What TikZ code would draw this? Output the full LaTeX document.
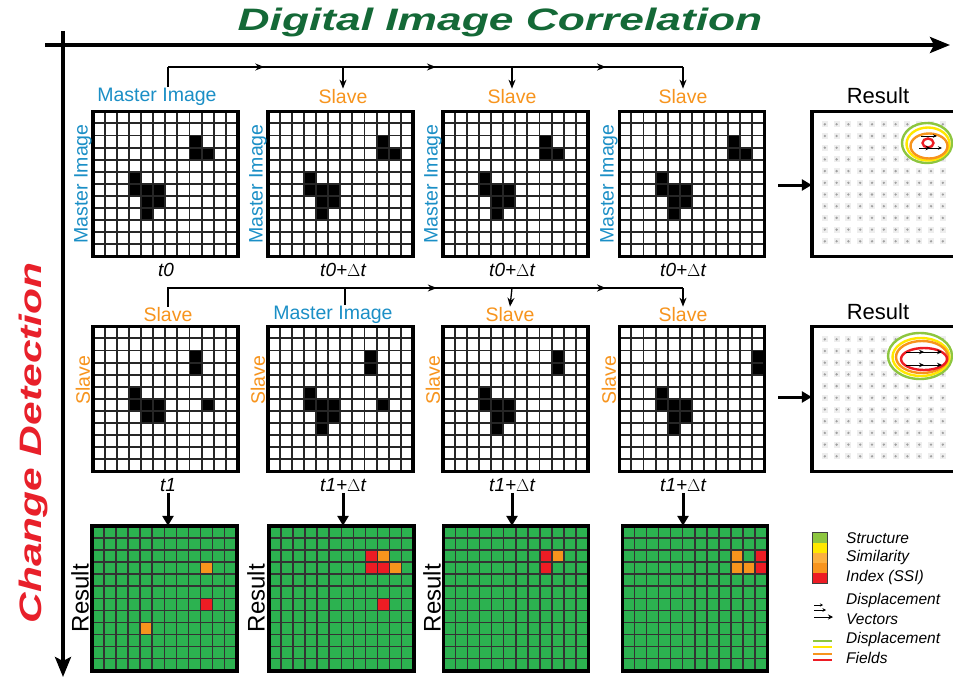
\documentclass[tikz,border=0pt]{standalone}
\usepackage{fontspec}
\setmainfont{Liberation Sans}
\usetikzlibrary{arrows.meta,decorations.markings}
\definecolor{mblue}{RGB}{27,143,198}
\definecolor{sorange}{RGB}{247,148,29}
\definecolor{tgreen}{RGB}{20,105,55}
\definecolor{cred}{RGB}{232,32,42}
\definecolor{cellgreen}{RGB}{44,178,80}
\definecolor{ssired}{RGB}{237,28,36}
\definecolor{ssiorange}{RGB}{247,148,29}
\definecolor{ssilorange}{RGB}{251,176,64}
\definecolor{ssiyellow}{RGB}{255,232,0}
\definecolor{ssigreen}{RGB}{141,198,63}
\definecolor{dotgray}{RGB}{160,160,160}
\definecolor{halo}{RGB}{238,238,238}
\newcommand\cellgrid[4]{%
\begin{scope}[shift={(#1.north west)}]
 \fill[#2] (0,0) rectangle (145,145);
 \foreach \r/\c/\col in {#3} \fill[\col] (\c*12.0833,\r*12.0833) rectangle ++(12.0833,12.0833);
 \foreach \i in {1,...,11} {\draw[#4] (\i*12.0833,0) -- ++(0,145); \draw[#4] (0,\i*12.0833) -- ++(145,0);}
 \draw[gridborder] (0,0) rectangle (145,145);
\end{scope}}
\newcommand\dotfield[1]{%
\begin{scope}[shift={(#1.north west)}]
 \foreach \i in {0,...,10} \foreach \j in {0,...,10} {\fill[halo] (13+\i*11.8-3,13+\j*11.7-3) rectangle ++(6,6); \fill[dotgray] (13+\i*11.8,13+\j*11.7) circle (1.3);}
\end{scope}}
\begin{document}
\begin{tikzpicture}[x=1pt,y=-1pt,
  gridbox/.style={minimum size=145pt,inner sep=0pt,draw=none},
  gridborder/.style={line width=3.5pt,black},
  wline/.style={line width=1.9pt,black!85},
  gline/.style={line width=1.5pt,black!80},
  lab/.style={font=\fontsize{19.5}{22}\selectfont,inner sep=1pt},
  mlab/.style={lab,text=mblue},
  slab/.style={lab,text=sorange},
  rlab/.style={lab,font=\fontsize{22}{24}\selectfont,text=black},
  tlab/.style={font=\fontsize{19}{22}\selectfont\itshape,inner sep=1pt},
  leg/.style={font=\fontsize{15.5}{18}\selectfont\itshape,anchor=west,inner sep=0pt},
  conn/.style={line width=1.3pt,black},
  midarrow/.style={postaction={decorate,decoration={markings,mark=at position 0.55 with {\arrow{Stealth[length=9pt,width=7pt]}}}}},
  smallmid/.style={postaction={decorate,decoration={markings,mark=at position 0.5 with {\arrow{Stealth[length=5pt,width=4.5pt]}}}}},
  downarr/.style={conn,-{Stealth[length=9pt,width=7pt]}},
  fatarr/.style={line width=3pt,-{Triangle[length=10pt,width=11pt]}},
  axis/.style={line width=3.5pt,-{Stealth[length=20pt,width=16pt,inset=4pt]}},
  ct/.style={line width=2.4pt}]
\clip (0,0) rectangle (953,677);
\fill[white] (0,0) rectangle (953,677);

% axes
\coordinate (ax0) at (45,45);
\coordinate (ax1) at (950,45);
\coordinate (ay0) at (63,31);
\coordinate (ay1) at (63,677);
\draw[axis] (ax0) -- (ax1);
\draw[axis] (ay0) -- (ay1);
\node[font=\fontsize{31}{33}\selectfont\bfseries\itshape,text=tgreen] (title) at (500,22) {\scalebox{1.43}[1]{Digital Image Correlation}};
\node[font=\fontsize{31}{33}\selectfont\bfseries\itshape,text=cred,rotate=90] (cd) at (33,443) {\scalebox{1.37}[1]{Change Detection}};

% grid nodes
\node[gridbox] (g11) at (165.5,184) {};
\node[gridbox] (g12) at (340.5,184) {};
\node[gridbox] (g13) at (515.5,184) {};
\node[gridbox] (g14) at (692,184) {};
\node[gridbox] (r1) at (884.5,184) {};
\node[gridbox] (g21) at (165.5,399) {};
\node[gridbox] (g22) at (340.5,399) {};
\node[gridbox] (g23) at (515.5,399) {};
\node[gridbox] (g24) at (692,399) {};
\node[gridbox] (r2) at (884.5,399) {};
\node[gridbox] (g31) at (164.5,598.5) {};
\node[gridbox] (g32) at (341.5,598.5) {};
\node[gridbox] (g33) at (516,598.5) {};
\node[gridbox] (g34) at (695,598.5) {};

% row 1
\cellgrid{g11}{white}{2/8/black,3/8/black,3/9/black,5/3/black,6/3/black,6/4/black,6/5/black,7/4/black,7/5/black,8/4/black}{wline}
\cellgrid{g12}{white}{2/9/black,3/9/black,3/10/black,5/3/black,6/3/black,6/4/black,6/5/black,7/4/black,7/5/black,8/4/black}{wline}
\cellgrid{g13}{white}{2/8/black,3/8/black,3/9/black,5/3/black,6/3/black,6/4/black,6/5/black,7/4/black,7/5/black,8/4/black}{wline}
\cellgrid{g14}{white}{2/9/black,3/9/black,3/10/black,5/3/black,6/3/black,6/4/black,6/5/black,7/4/black,7/5/black,8/4/black}{wline}
% row 2
\cellgrid{g21}{white}{2/8/black,3/8/black,6/9/black,5/3/black,6/3/black,6/4/black,6/5/black,7/4/black,7/5/black}{wline}
\cellgrid{g22}{white}{2/8/black,3/8/black,6/9/black,5/3/black,6/3/black,6/4/black,6/5/black,7/4/black,7/5/black,8/4/black}{wline}
\cellgrid{g23}{white}{2/9/black,3/9/black,5/3/black,6/3/black,6/4/black,6/5/black,7/4/black,7/5/black,8/4/black}{wline}
\cellgrid{g24}{white}{2/11/black,3/11/black,5/3/black,6/3/black,6/4/black,6/5/black,7/4/black,7/5/black,8/4/black}{wline}
% row 3
\cellgrid{g31}{cellgreen}{3/9/ssiorange,6/9/ssired,8/4/ssiorange}{gline}
\cellgrid{g32}{cellgreen}{2/8/ssired,2/9/ssiorange,3/8/ssired,3/9/ssired,3/10/ssiorange,6/9/ssired}{gline}
\cellgrid{g33}{cellgreen}{2/8/ssired,3/8/ssired,2/9/ssiorange}{gline}
\cellgrid{g34}{cellgreen}{2/9/ssiorange,3/9/ssiorange,3/10/ssiorange,2/11/ssired,3/11/ssired}{gline}

% result panels
\dotfield{r1}
\dotfield{r2}
% contours result 1
\fill[white] (927,143) ellipse [x radius=25,y radius=20];
\draw[ct,ssigreen] (927,143) ellipse [x radius=25,y radius=20];
\draw[ct,ssiyellow] (928,144) ellipse [x radius=21.5,y radius=16.5];
\draw[ct,ssiorange] (929,146) ellipse [x radius=18.5,y radius=12.5];
\draw[ct,ssired] (928,143) ellipse [x radius=5.5,y radius=4.5];
\draw[line width=0.9pt,-{Stealth[length=4pt,width=3.5pt]}] (921,136) -- (937,136);
\draw[line width=0.9pt,-{Stealth[length=4pt,width=3.5pt]},smallmid] (919,148) -- (942,148);
% contours result 2
\fill[white] (920,356) ellipse [x radius=32,y radius=23];
\draw[ct,ssigreen] (920,356) ellipse [x radius=32,y radius=23];
\draw[ct,ssiyellow] (921,357) ellipse [x radius=28.5,y radius=19];
\draw[ct,ssiorange] (922,357) ellipse [x radius=26,y radius=16];
\draw[ct,ssired] (924,359) ellipse [x radius=23,y radius=11];
\draw[line width=1pt,-{Stealth[length=5pt,width=4.5pt]},smallmid] (906,352) -- (942,352);
\draw[line width=1pt,-{Stealth[length=5pt,width=4.5pt]},smallmid] (906,365) -- (942,365);
\draw[gridborder] (r1.north west) rectangle (r1.south east);
\draw[gridborder] (r2.north west) rectangle (r2.south east);

% labels row 1
\node[mlab] (m11) at (157,97) {Master Image};
\node[slab] (s12) at (343,97) {Slave};
\node[slab] (s13) at (512,97) {Slave};
\node[slab] (s14) at (683,97) {Slave};
\node[rlab] (res1) at (878,96) {Result};
\node[mlab,rotate=90] (ms11) at (83,184) {Master Image};
\node[mlab,rotate=90] (ms12) at (258,184) {Master Image};
\node[mlab,rotate=90] (ms13) at (433,184) {Master Image};
\node[mlab,rotate=90] (ms14) at (609,184) {Master Image};
\node[tlab] (t11) at (166,270) {t0};
\node[tlab] (t12) at (343,270) {t0+$\Delta$t};
\node[tlab] (t13) at (512,270) {t0+$\Delta$t};
\node[tlab] (t14) at (683,270) {t0+$\Delta$t};

% labels row 2
\node[slab] (s21) at (168,315) {Slave};
\node[mlab] (m22) at (333,315) {Master Image};
\node[slab] (s23) at (510,315) {Slave};
\node[slab] (s24) at (683,315) {Slave};
\node[rlab] (res2) at (878,312) {Result};
\node[slab,rotate=90] (ss21) at (83,380) {Slave};
\node[slab,rotate=90] (ss22) at (258,380) {Slave};
\node[slab,rotate=90] (ss23) at (433,380) {Slave};
\node[slab,rotate=90] (ss24) at (609,380) {Slave};
\node[tlab] (t21) at (168,485) {t1};
\node[tlab] (t22) at (343,485) {t1+$\Delta$t};
\node[tlab] (t23) at (512,485) {t1+$\Delta$t};
\node[tlab] (t24) at (683,485) {t1+$\Delta$t};

% labels row 3
\node[rlab,font=\fontsize{24}{26}\selectfont,rotate=90] (rr31) at (80,598) {Result};
\node[rlab,font=\fontsize{24}{26}\selectfont,rotate=90] (rr32) at (256,598) {Result};
\node[rlab,font=\fontsize{24}{26}\selectfont,rotate=90] (rr33) at (432,598) {Result};

% connectors row 1
\coordinate (c1) at (168,67);
\coordinate (c2) at (343,67);
\coordinate (c3) at (512,67);
\coordinate (c4) at (683,67);
\draw[conn] (m11.north -| c1) -- (c1);
\draw[conn,midarrow] (c1) -- (c2);
\draw[conn,midarrow] (c2) -- (c3);
\draw[conn,midarrow] (c3) -- (c4);
\draw[downarr] (c2) -- (s12.north);
\draw[downarr] (c3) -- (s13.north);
\draw[downarr] (c4) -- (s14.north);

% connectors row 2
\coordinate (d1) at (168,288);
\coordinate (d2) at (345,288);
\coordinate (d3) at (512,288);
\coordinate (d4) at (683,288);
\draw[conn] (m22.north -| d2) -- (d2);
\draw[conn] (d2) -- (d1) -- (s21.north);
\draw[conn,midarrow] (d2) -- (d3);
\draw[conn,midarrow] (d3) -- (d4);
\draw[downarr] (d3) -- (s23.north);
\draw[downarr] (d4) -- (s24.north);

% row arrows to results
\draw[fatarr] (778,185) -- (r1.west |- 0,185);
\draw[fatarr] (778,397) -- (r2.west |- 0,397);
% down arrows to change results
\draw[fatarr] (t21.south) -- (g31.north -| t21.south);
\draw[fatarr] (t22.south) -- (g32.north -| t22.south);
\draw[fatarr] (t23.south) -- (g33.north -| t23.south);
\draw[fatarr] (t24.south) -- (g34.north -| t24.south);

% legend
\node[minimum width=14pt,minimum height=50pt,inner sep=0pt] (bar) at (820,558) {};
\fill[ssigreen] (813,533) rectangle (827,543);
\fill[ssiyellow] (813,543) rectangle (827,553);
\fill[ssilorange] (813,553) rectangle (827,563);
\fill[ssiorange] (813,563) rectangle (827,573);
\fill[ssired] (813,573) rectangle (827,583);
\draw[black!75,line width=0.9pt] (bar.north west) rectangle (bar.south east);
\node[leg] (l1) at (846,538) {Structure};
\node[leg] (l2) at (846,557) {Similarity};
\node[leg] (l3) at (846,577) {Index (SSI)};
\node[leg] (l4) at (846,600) {Displacement};
\node[leg] (l5) at (846,619) {Vectors};
\node[leg] (l6) at (846,639) {Displacement};
\node[leg] (l7) at (846,658) {Fields};
\coordinate (va0) at (814,605); \coordinate (va1) at (823,605);
\coordinate (vb0) at (814,610); \coordinate (vb1) at (826,610);
\coordinate (vc0) at (814,617); \coordinate (vc1) at (833,617);
\draw[line width=0.7pt,-{Stealth[length=3pt,width=3pt]}] (va0) -- (va1);
\draw[line width=0.8pt,-{Stealth[length=3.5pt,width=3.5pt]}] (vb0) -- (vb1);
\draw[line width=1pt,-{Stealth[length=5pt,width=5pt]}] (vc0) -- (vc1);
\coordinate (la0) at (813,641); \coordinate (la1) at (832,641);
\coordinate (lb0) at (813,647); \coordinate (lb1) at (832,647);
\coordinate (lc0) at (813,654); \coordinate (lc1) at (832,654);
\coordinate (ld0) at (813,660); \coordinate (ld1) at (832,660);
\draw[line width=1.3pt,ssigreen] (la0) -- (la1);
\draw[line width=1.3pt,ssiyellow] (lb0) -- (lb1);
\draw[line width=1.3pt,ssiorange] (lc0) -- (lc1);
\draw[line width=1.3pt,ssired] (ld0) -- (ld1);
\end{tikzpicture}
\end{document}
